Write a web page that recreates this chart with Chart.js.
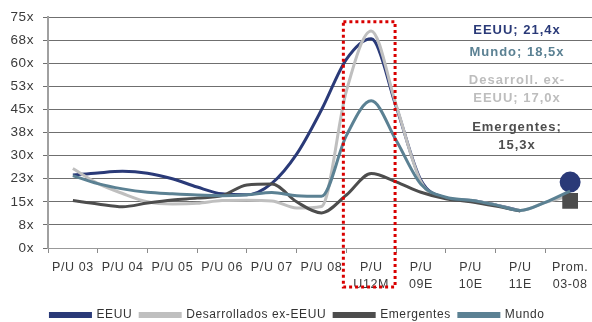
<!DOCTYPE html>
<html>
<head>
<meta charset="utf-8">
<script src="https://cdn.jsdelivr.net/npm/chart.js@4.4.0/dist/chart.umd.min.js"></script>
<style>
html,body{margin:0;padding:0;background:#fff;overflow:hidden;}
#wrap{width:595px;height:331px;position:relative;}
</style>
</head>
<body>
<div id="wrap"><canvas id="chart"></canvas></div>
<script>
// P/U multiples by region, half-year resolution, last point = 2003-08 average

// ---------- Data ----------
const categories = ['P/U 03','P/U 04','P/U 05','P/U 06','P/U 07','P/U 08',
  ['P/U','U12M'],['P/U','09E'],['P/U','10E'],['P/U','11E'],['Prom.','03-08']];

// position of each reading, in category units (0 = P/U 03)
const xPos = [0,0.5,1,1.5,2,2.5,3,3.5,4,4.5,5,5.5,6,6.5,7,7.5,8,8.5,9,9.5,10];

const eeuu          = [23.7,24.4,24.9,24.3,22.5,19.8,17.6,17.3,21.0,30.5,44.9,61.3,68.0,46.0,22.0,16.3,15.4,14.0,12.1,null,21.4];
const desarrollados = [25.8,21.0,17.7,15.0,14.3,14.5,15.4,15.5,15.3,13.0,13.5,51.0,70.5,46.5,21.5,16.3,15.4,14.0,12.2,14.8,17.0];
const emergentes    = [15.4,14.3,13.4,14.6,15.6,16.2,17.0,20.5,20.8,15.0,11.4,17.2,24.2,21.5,18.1,16.0,15.0,13.6,12.0,null,15.3];
const mundo         = [23.5,20.9,19.2,18.1,17.6,17.2,17.0,17.3,18.0,17.0,16.8,36.5,47.8,35.0,20.7,16.5,15.5,14.0,12.2,14.8,18.5];

const yTicks = [0,7.5,15,22.5,30,37.5,45,52.5,60,67.5,75];

const notes = [
  {lines:['EEUU; 21,4x'], color:'#2a3a78', y:30},
  {lines:['Mundo; 18,5x'], color:'#5b8193', y:52},
  {lines:['Desarroll. ex-','EEUU; 17,0x'], color:'#bdbdbd', y:80},
  {lines:['Emergentes;','15,3x'], color:'#4d4d4d', y:127},
];

const FONT = '"Liberation Sans", Arial, sans-serif';

function pts(vals){ return vals.map((v,i)=>({x:xPos[i], y:v})); }
function lastOnly(r){ return xPos.map((_,i)=> i===xPos.length-1 ? r : 0); }

// ---------- Plugins ----------
const spacing = {
  id:'spacing',
  beforeLayout(chart){ chart.ctx.letterSpacing = '0.6px'; },
  beforeDraw(chart){ chart.ctx.letterSpacing = '0.6px'; }
};

const redBox = {
  id:'redBox',
  afterDatasetsDraw(chart){
    const {ctx, scales:{x,y}, chartArea} = chart;
    const l = x.getPixelForValue(5.5) - 3, r = x.getPixelForValue(6.5) - 1;
    const t = y.getPixelForValue(73.5), b = chartArea.bottom + 39;
    ctx.save();
    ctx.strokeStyle = '#d90000';
    ctx.lineWidth = 3;
    ctx.setLineDash([3,3]);
    ctx.strokeRect(l, t, r-l, b-t);
    ctx.restore();
  }
};

const sideNotes = {
  id:'sideNotes',
  afterDraw(chart){
    const {ctx, chartArea} = chart;
    const cx = chartArea.right - 78;
    ctx.save();
    ctx.font = 'bold 13px ' + FONT;
    ctx.letterSpacing = '1px';
    ctx.textAlign = 'center';
    ctx.textBaseline = 'middle';
    notes.forEach(n=>{
      ctx.fillStyle = n.color;
      n.lines.forEach((ln,i)=> ctx.fillText(ln, cx, n.y + i*18));
    });
    ctx.restore();
  }
};

// ---------- Chart ----------
const line = (label, vals, color, extra) => Object.assign({
  label, data: pts(vals), borderColor: color, backgroundColor: color,
  borderWidth: 3, pointRadius: 0, pointHoverRadius: 0,
  cubicInterpolationMode: 'monotone', spanGaps: false
}, extra||{});

new Chart(document.getElementById('chart'), {
  type: 'line',
  data: {
    datasets: [
      line('EEUU', eeuu, '#2a3a78', {order:3, pointRadius:lastOnly(9), pointStyle:'circle'}),
      line('Desarrollados ex-EEUU', desarrollados, '#bfbfbf', {order:2}),
      line('Emergentes', emergentes, '#4d4d4d', {order:1, pointRadius:lastOnly(9), pointStyle:'rect'}),
      line('Mundo', mundo, '#5b8193', {order:0}),
    ]
  },
  options: {
    responsive: true,
    maintainAspectRatio: false,
    animation: false,
    layout: { autoPadding: false, padding: { top: 14, right: 0, left: 0, bottom: 0 } },
    plugins: {
      legend: {
        position: 'bottom',
        labels: {
          boxWidth: 40, boxHeight: 3, color: '#333',
          font: { family: FONT, size: 12 },
          padding: 8,
          sort: (a,b) => a.datasetIndex - b.datasetIndex
        }
      },
      tooltip: { enabled: false }
    },
    scales: {
      x: { type: 'linear', min: -0.5, max: 10.5, display: false },
      xc: {
        type: 'category', position: 'bottom', labels: categories, offset: true,
        grid: { offset: true, drawOnChartArea: false, tickLength: 5, color: '#8a8a8a' },
        border: { color: '#999', width: 1 },
        ticks: { color: '#3a3a3a', font: { family: FONT, size: 12.5, lineHeight: '17px' }, padding: 6, maxRotation: 0, autoSkip: false },
        afterFit: s => { s.height = 53; s.paddingLeft = 0; s.paddingRight = 0; }
      },
      y: {
        min: 0, max: 75,
        afterBuildTicks: s => { s.ticks = yTicks.map(v => ({value: v})); },
        grid: { color: '#6f6f6f', tickLength: 5 },
        border: { color: '#a0a0a0', width: 2 },
        ticks: { color: '#3a3a3a', font: { family: FONT, size: 13.5 }, padding: 9,
          callback: v => Math.round(v) + 'x' },
        afterFit: s => { s.width = 48; }
      }
    }
  },
  plugins: [spacing, redBox, sideNotes]
});
</script>
</body>
</html>
